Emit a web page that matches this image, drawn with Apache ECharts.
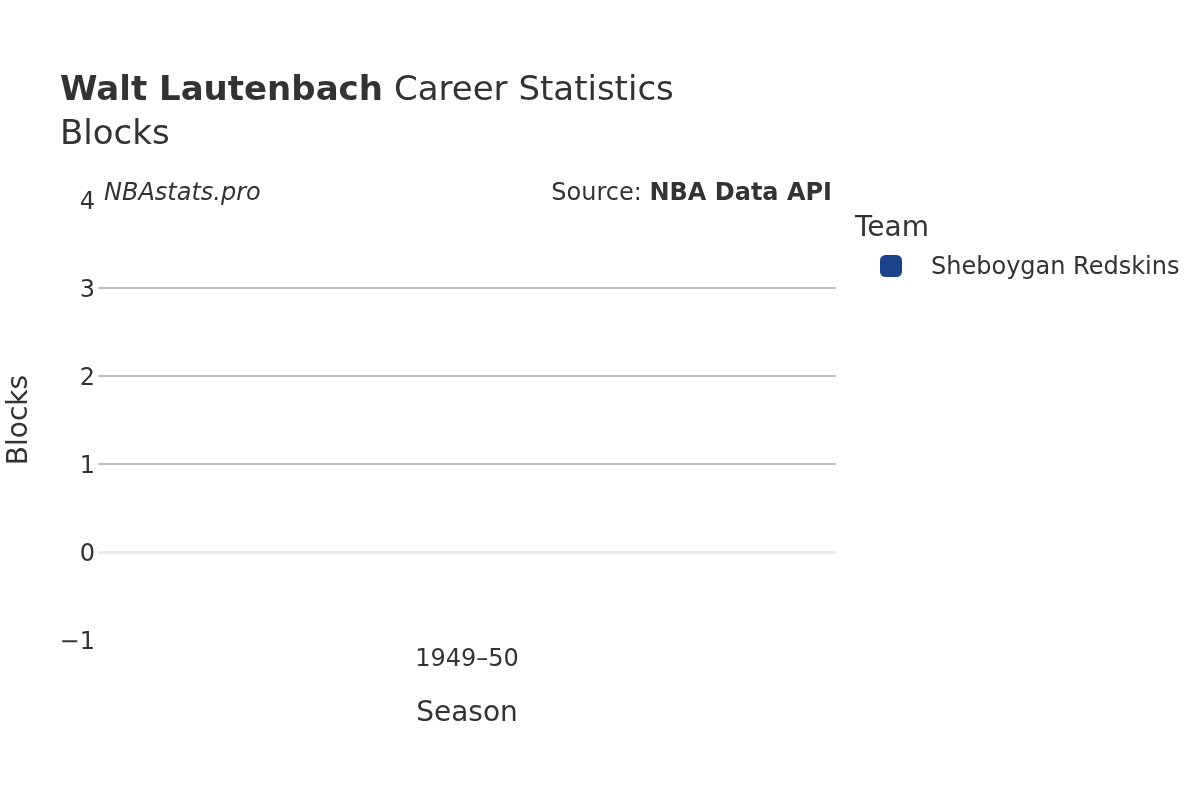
<!DOCTYPE html>
<html>
<head>
<meta charset="utf-8">
<script src="https://cdn.jsdelivr.net/npm/echarts@6/dist/echarts.min.js"></script>
<style>
html,body{margin:0;padding:0;background:#fff;}
#chart{width:1200px;height:800px;}
</style>
</head>
<body>
<div id="chart"></div>
<script>
const seasons = ['1949–50'];
const teamName = 'Sheboygan Redskins';
const blocks = [0];
const yTicks = [-1, 0, 1, 2, 3, 4];

const FONT = '"DejaVu Sans", sans-serif';
const TXT = '#333333';
const chart = echarts.init(document.getElementById('chart'), null, {renderer: 'canvas'});
chart.setOption({
  backgroundColor: '#ffffff',
  animation: false,
  textStyle: {fontFamily: FONT},
  title: {
    left: 60, top: 69, padding: 0,
    text: '{b|Walt Lautenbach}{c|Career Statistics}\n{n|Blocks}',
    textStyle: {
      rich: {
        b: {fontFamily: FONT, fontWeight: 'bold', fontSize: 34, color: TXT, lineHeight: 44},
        c: {fontFamily: FONT, fontWeight: 'normal', fontSize: 34, color: TXT, lineHeight: 44, padding: [0, 0, 0, 11]},
        n: {fontFamily: FONT, fontWeight: 'normal', fontSize: 34, color: TXT, lineHeight: 44}
      }
    }
  },
  graphic: [
    {type: 'text', left: 104, top: 182, style: {text: 'NBAstats.pro', font: 'italic 24px "DejaVu Sans"', fill: TXT}},
    {type: 'text', right: 368, top: 182, style: {rich: {
        a: {fontFamily: FONT, fontSize: 24, fill: TXT},
        b: {fontFamily: FONT, fontSize: 24, fontWeight: 'bold', fill: TXT}
      }, text: '{a|Source: }{b|NBA Data API}'}},
    {type: 'text', left: 855, top: 215, style: {text: 'Team', font: '28px "DejaVu Sans"', fill: TXT}}
  ],
  legend: {
    left: 880, top: 255,
    orient: 'vertical',
    data: [teamName],
    icon: 'roundRect',
    itemWidth: 22, itemHeight: 22,
    padding: 0,
    formatter: '{t|{name}}',
    textStyle: {fontFamily: FONT, fontSize: 24, color: TXT, padding: [0, 0, 0, 24],
      rich: {t: {fontFamily: FONT, fontSize: 24, color: TXT, padding: [4, 0, 0, 0]}}}
  },
  grid: {left: 98, right: 364, top: 200, bottom: 160, outerBoundsMode: 'none', containLabel: false},
  xAxis: {
    type: 'category',
    data: seasons,
    name: 'Season',
    nameLocation: 'middle',
    nameGap: 60,
    nameTextStyle: {fontFamily: FONT, fontSize: 28, color: TXT},
    axisLine: {show: false, onZero: false},
    axisTick: {show: false},
    axisLabel: {fontFamily: FONT, fontSize: 24, color: TXT, margin: 8},
    splitLine: {show: false}
  },
  yAxis: {
    type: 'value',
    min: yTicks[0], max: yTicks[yTicks.length - 1], interval: 1,
    name: 'Blocks',
    nameLocation: 'middle',
    nameGap: 64,
    nameTextStyle: {fontFamily: FONT, fontSize: 28, color: TXT},
    axisLine: {show: false},
    axisTick: {show: false},
    axisLabel: {fontFamily: FONT, fontSize: 24, color: TXT, margin: 3,
      rich: {v: {fontFamily: FONT, fontSize: 24, color: TXT, padding: [5, 0, 0, 0]}},
      formatter: v => '{v|' + (v < 0 ? '\u2212' + Math.abs(v) : String(v)) + '}'},
    splitLine: {show: true, lineStyle: {width: 2, color: ['rgba(0,0,0,0)', 'rgba(0,0,0,0)', '#bfbfbf', '#bfbfbf', '#bfbfbf', 'rgba(0,0,0,0)']}}
  },
  series: [{
    name: teamName,
    type: 'bar',
    data: blocks,
    itemStyle: {color: '#1c4389'},
    barWidth: '60%',
    markLine: {
      silent: true, symbol: 'none', label: {show: false},
      lineStyle: {color: '#ebebeb', width: 3, type: 'solid'},
      data: [{yAxis: 0}]
    }
  }]
});
</script>
</body>
</html>
